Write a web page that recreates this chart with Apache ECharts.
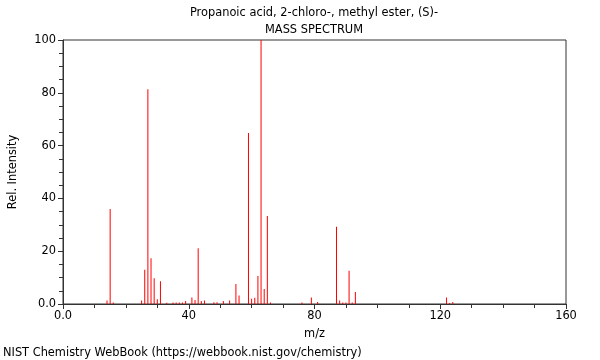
<!DOCTYPE html>
<html><head><meta charset="utf-8">
<script src="https://cdn.jsdelivr.net/npm/echarts@6/dist/echarts.min.js"></script>
<style>html,body{margin:0;padding:0;background:#fff}#c{width:600px;height:360px}</style>
</head><body><div id="c"></div>
<script>
const mz = [14,15,16,25,26,27,28,29,30,31,33,35,36,37,38,39,41,42,43,44,45,48,49,51,53,55,56,59,60,61,62,63,64,65,66,76,79,81,87,88,89,90,91,92,93,122,123,124];
const intensity = [1.3,36,0.6,1.3,13,81.3,17.3,9.8,1.8,8.6,0.5,0.6,0.6,0.6,0.6,1.1,2.5,1.5,21.1,1.1,1.3,0.7,0.7,1.1,1.3,7.6,3.2,64.8,2.0,2.4,10.6,100,5.7,33.3,0.6,0.6,2.5,0.8,29.3,1.3,0.6,0.6,12.6,0.6,4.5,2.5,0.4,0.8];
const titleLines = ['Propanoic acid, 2-chloro-, methyl ester, (S)-','MASS SPECTRUM'];
const footer = 'NIST Chemistry WebBook (https://webbook.nist.gov/chemistry)';
const xName = 'm/z', yName = 'Rel. Intensity';

const font = 'DejaVu Sans';
const fs = 11.4;
const chart = echarts.init(document.getElementById('c'), null, {renderer:'canvas'});
const fmt = v => v === 0 ? '0.0' : String(v);
const txt = (s, x, y, align) => ({type:'text', x:x, y:y, silent:true,
  style:{text:s, fill:'#000', font: fs + 'px "' + font + '"', align:align, verticalAlign:'middle'}});
chart.setOption({
  animation:false,
  textStyle:{fontFamily:font},
  graphic:[
    txt(titleLines[0], 314, 13, 'center'),
    txt(titleLines[1], 314, 30, 'center'),
    txt(footer, 3, 353, 'left')
  ],
  grid:{left:62,right:34,top:40,bottom:56,show:true,borderColor:'#333',borderWidth:1,backgroundColor:'transparent'},
  xAxis:{type:'value',min:0,max:160,interval:40,
    name:xName,nameLocation:'middle',nameGap:25,nameTextStyle:{fontSize:fs,color:'#000',fontFamily:font},
    axisLine:{show:true,lineStyle:{color:'#333'}},
    axisTick:{show:true,length:5,lineStyle:{color:'#333'}},
    minorTick:{show:true,splitNumber:4,length:4,lineStyle:{color:'#333'}},
    splitLine:{show:false},
    axisLabel:{formatter:fmt,fontSize:fs,color:'#000',margin:7,fontFamily:font}},
  yAxis:{type:'value',min:0,max:100,interval:20,
    name:yName,nameLocation:'middle',nameGap:44,nameRotate:90,nameTextStyle:{fontSize:fs,color:'#000',fontFamily:font},
    axisLine:{show:true,lineStyle:{color:'#333'}},
    axisTick:{show:true,length:5,lineStyle:{color:'#333'}},
    minorTick:{show:true,splitNumber:4,length:4,lineStyle:{color:'#333'}},
    splitLine:{show:false},
    axisLabel:{formatter:fmt,fontSize:fs,color:'#000',margin:7,fontFamily:font}},
  series:[{type:'bar',barWidth:1,data:mz.map((m,i)=>[m,intensity[i]]),itemStyle:{color:'#ff0000'},silent:true}]
});
</script></body></html>
